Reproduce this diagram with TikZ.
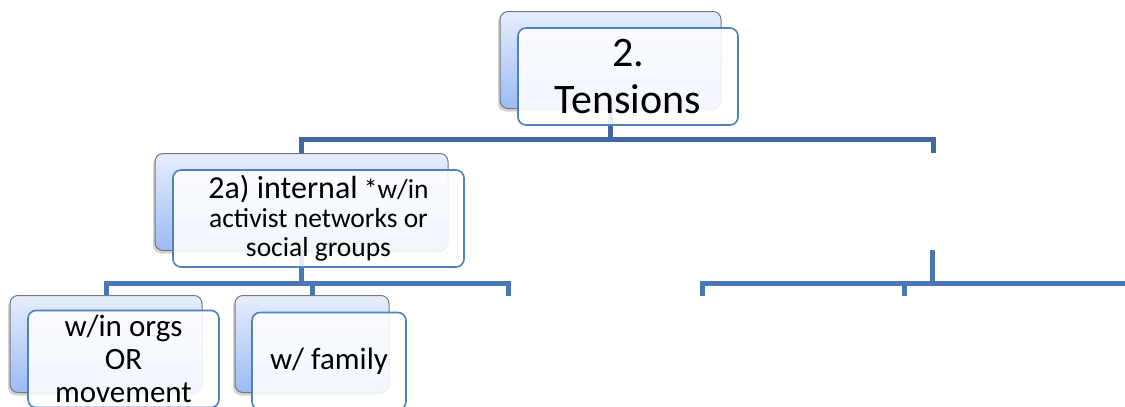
\documentclass[tikz,border=0pt]{standalone}
\usepackage{fontspec}
\setmainfont{Carlito}
\usepackage{tikz}
\usetikzlibrary{positioning, shadows, backgrounds}
\definecolor{boxblue}{RGB}{79,129,189}
\definecolor{linedark}{RGB}{65,104,156}
\definecolor{linemid}{RGB}{74,120,180}
\definecolor{shadetop}{RGB}{230,238,252}
\definecolor{shadebot}{RGB}{155,187,245}
\definecolor{backedge}{RGB}{120,120,120}

\begin{document}
\begin{tikzpicture}[
    x=1pt, y=-1pt,
    backbox/.style={rectangle, draw=backedge, line width=1pt, rounded corners=8pt, top color=shadetop, bottom color=shadebot, minimum height=97pt, inner sep=0pt, outer sep=0pt, drop shadow={opacity=0.35, shadow xshift=-2pt, shadow yshift=-3pt}},
    frontbox/.style={rectangle, draw=boxblue, line width=1.6pt, rounded corners=8pt, fill=white, fill opacity=0.88, text opacity=1, minimum height=97pt, inner sep=0pt, outer sep=0pt, align=center},
    lvlone/.style={draw=linedark, line width=5pt},
    lvltwo/.style={draw=linemid, line width=5pt},
]
    \useasboundingbox (0,0) rectangle (1125,407);
    \clip (0,0) rectangle (1125,407);

    \node[backbox, minimum width=221pt] (t0) at (610.5,60) {};
    \node[frontbox, minimum width=220pt, font=\fontsize{42}{47}\selectfont] (t1) at ([shift={(17.5,16.5)}]t0.center) {2.\\Tensions};

    \node[backbox, minimum width=293pt] (a0) at (301.5,202) {};
    \node[frontbox, minimum width=291pt, font=\fontsize{27.5}{29}\selectfont] (a1) at ([shift={(17,16.5)}]a0.center) {{\fontsize{32}{29}\selectfont 2a) internal} *w/in\\activist networks or\\social groups};

    \node[backbox, minimum width=192pt] (c1) at (106,344) {};
    \node[frontbox, minimum width=191pt, font=\fontsize{31}{33}\selectfont] (c1f) at ([shift={(17.5,15)}]c1.center) {w/in orgs\\OR\\movement};

    \node[backbox, minimum width=154pt] (c2) at (312,344) {};
    \node[frontbox, minimum width=154pt, font=\fontsize{31}{33}\selectfont] (c2f) at ([shift={(17,17)}]c2.center) {w/ family};

    \coordinate (r0top) at (933,153);
    \coordinate (r0bot) at (932,250);
    \coordinate (c3) at (508,296);
    \coordinate (d1) at (702,296);
    \coordinate (d2) at (904,296);
    \coordinate (d3) at (1140,296);

    \begin{scope}[on background layer]
        \clip (0,0) rectangle (1125,407);
        \draw[lvlone] (t0.south) -- ++(0,31);
        \draw[lvlone] (a0.north) -- ++(0,-14) -| (r0top);
        \draw[lvltwo] (a0.south) -- ++(0,33);
        \draw[lvltwo] (c1.north) -- ++(0,-12) -| (c3);
        \draw[lvltwo] (c2.north) -- ++(0,-12);
        \draw[lvltwo] (r0bot) -- ++(0,33);
        \draw[lvltwo] (d1) -- ++(0,-13) -| (d3);
        \draw[lvltwo] (d2) -- ++(0,-13);
    \end{scope}
\end{tikzpicture}
\end{document}
